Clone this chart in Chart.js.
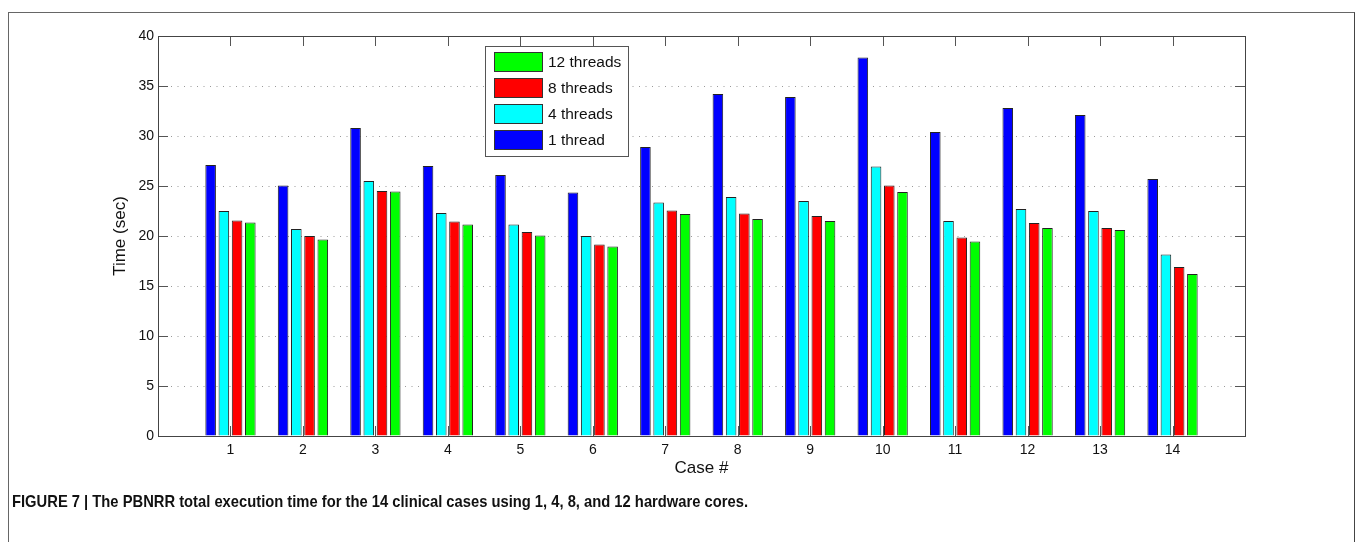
<!DOCTYPE html>
<html>
<head>
<meta charset="utf-8">
<script src="https://cdn.jsdelivr.net/npm/chart.js@4.4.1/dist/chart.umd.min.js"></script>
<style>
    body { margin: 0; background: #fff; }
    #wrap { position: relative; width: 1355px; height: 542px; overflow: hidden; }
    #frame { position: absolute; left: 8px; top: 12px; width: 1345px; height: 540px;
             border-top: 1px solid #666; border-left: 1px solid #666; border-right: 1px solid #444; }
    #chart { position: absolute; left: 0; top: 0; }
    #caption { position: absolute; left: 12px; top: 492px; white-space: nowrap;
               font: bold 16.5px 'Liberation Sans Narrow', 'Liberation Sans', Arial, sans-serif;
               color: #111; transform-origin: 0 0; }
</style>
</head>
<body>
<div id="wrap">
    <div id="frame"></div>
    <canvas id="chart" width="1355" height="542"></canvas>
    <div id="caption">FIGURE 7 | The PBNRR total execution time for the 14 clinical cases using 1, 4, 8, and 12 hardware cores.</div>
</div>
<script>
// valores (tempo em segundos)
var cases = [1, 2, 3, 4, 5, 6, 7, 8, 9, 10, 11, 12, 13, 14];
var oneThread = [27.1, 25.05, 30.8, 27.0, 26.1, 24.35, 28.9, 34.2, 33.9, 37.85, 30.4, 32.8, 32.1, 25.7];
var fourThreads = [22.5, 20.7, 25.5, 22.3, 21.15, 20.0, 23.35, 23.9, 23.5, 26.95, 21.5, 22.7, 22.5, 18.15];
var eightThreads = [21.55, 20.0, 24.5, 21.45, 20.4, 19.15, 22.55, 22.25, 22.0, 25.05, 19.85, 21.3, 20.8, 16.9];
var twelveThreads = [21.35, 19.65, 24.45, 21.15, 20.05, 18.95, 22.2, 21.7, 21.5, 24.4, 19.45, 20.8, 20.6, 16.2];
var yTicks = [0, 5, 10, 15, 20, 25, 30, 35, 40];

var FONT = "'Liberation Sans', Arial, Helvetica, sans-serif";

function pontos(valores) {
    return cases.map(function (c, i) {
        return { x: c, y: valores[i] };
    });
}

// marcas internas dos eixos (estilo MATLAB, box on)
var tickMarks = {
    id: 'tickMarks',
    beforeDatasetsDraw: function (chart) {
        var ctx = chart.ctx, a = chart.chartArea;
        var sx = chart.scales.x, sy = chart.scales.y;
        ctx.save();
        ctx.strokeStyle = '#555';
        ctx.lineWidth = 1;
        ctx.beginPath();
        yTicks.forEach(function (v) {
            var py = Math.round(sy.getPixelForValue(v)) + 0.5;
            ctx.moveTo(a.left, py); ctx.lineTo(a.left + 10, py);
            ctx.moveTo(a.right, py); ctx.lineTo(a.right - 10, py);
        });
        cases.forEach(function (c) {
            var px = Math.round(sx.getPixelForValue(c)) + 0.5;
            ctx.moveTo(px, a.bottom); ctx.lineTo(px, a.bottom - 10);
            ctx.moveTo(px, a.top); ctx.lineTo(px, a.top + 10);
        });
        ctx.stroke();
        ctx.restore();
    },
    afterDatasetsDraw: function (chart) {
        var ctx = chart.ctx, a = chart.chartArea;
        ctx.save();
        ctx.strokeStyle = '#444';
        ctx.lineWidth = 1;
        ctx.strokeRect(Math.round(a.left) + 0.5, Math.round(a.top) + 0.5,
            Math.round(a.right - a.left), Math.round(a.bottom - a.top));
        ctx.restore();
    }
};

// legenda com caixa, em ordem inversa
var boxLegend = {
    id: 'boxLegend',
    afterDraw: function (chart) {
        var ctx = chart.ctx;
        var ds = chart.data.datasets.slice().reverse();
        ctx.save();
        ctx.fillStyle = '#fff';
        ctx.fillRect(485, 46, 143, 110);
        ctx.strokeStyle = '#555';
        ctx.lineWidth = 1;
        ctx.strokeRect(485.5, 46.5, 143, 110);
        ctx.font = '15.5px ' + FONT;
        ctx.textBaseline = 'middle';
        ds.forEach(function (d, i) {
            var y = 52 + i * 26;
            ctx.fillStyle = d.backgroundColor;
            ctx.fillRect(494.5, y + 0.5, 48, 19);
            ctx.strokeStyle = '#333';
            ctx.strokeRect(494.5, y + 0.5, 48, 19);
            ctx.fillStyle = '#111';
            ctx.fillText(d.label, 548, y + 10.5);
        });
        ctx.restore();
    }
};

function makeDataset(label, valores, cor) {
    return {
        label: label,
        data: pontos(valores),
        backgroundColor: cor,
        borderColor: '#222',
        borderWidth: 1,
        categoryPercentage: 0.73,
        barPercentage: 0.8
    };
}

var ctx = document.getElementById('chart').getContext('2d');
var chart = new Chart(ctx, {
    type: 'bar',
    data: {
        datasets: [
            makeDataset('1 thread', oneThread, '#0000ff'),
            makeDataset('4 threads', fourThreads, '#00ffff'),
            makeDataset('8 threads', eightThreads, '#ff0000'),
            makeDataset('12 threads', twelveThreads, '#00ff00')
        ]
    },
    options: {
        responsive: false,
        animation: false,
        layout: { padding: { left: 110, top: 36, right: 110, bottom: 63 } },
        plugins: {
            legend: { display: false },
            tooltip: { enabled: false }
        },
        scales: {
            x: {
                type: 'linear',
                min: 0,
                max: 15,
                offset: false,
                afterFit: function (s) { s.height = 43; },
                afterBuildTicks: function (s) {
                    s.ticks = cases.map(function (c) { return { value: c }; });
                },
                ticks: {
                    autoSkip: false,
                    maxRotation: 0,
                    padding: 6,
                    color: '#111',
                    font: { family: FONT, size: 14 }
                },
                grid: { display: false, drawTicks: false },
                border: { display: false },
                title: {
                    display: true,
                    text: 'Case #',
                    color: '#111',
                    padding: 0,
                    font: { family: FONT, size: 17 }
                }
            },
            y: {
                min: 0,
                max: 40,
                afterFit: function (s) { s.width = 48; },
                afterBuildTicks: function (s) {
                    s.ticks = yTicks.map(function (v) { return { value: v }; });
                },
                ticks: {
                    padding: 4,
                    color: '#111',
                    font: { family: FONT, size: 14 }
                },
                grid: {
                    drawTicks: false,
                    lineWidth: 1,
                    color: function (c) {
                        return (c.tick && (c.tick.value === 0 || c.tick.value === 40)) ? 'rgba(0,0,0,0)' : '#9a9a9a';
                    }
                },
                border: { display: false, dash: [1, 5.5] },
                title: {
                    display: true,
                    text: 'Time (sec)',
                    color: '#111',
                    padding: 0,
                    font: { family: FONT, size: 17 }
                }
            }
        }
    },
    plugins: [tickMarks, boxLegend]
});

// ajusta a largura da legenda da figura
var cap = document.getElementById('caption');
var w = cap.getBoundingClientRect().width;
if (w > 0) cap.style.transform = 'scaleX(' + (736 / w) + ')';
</script>
</body>
</html>
